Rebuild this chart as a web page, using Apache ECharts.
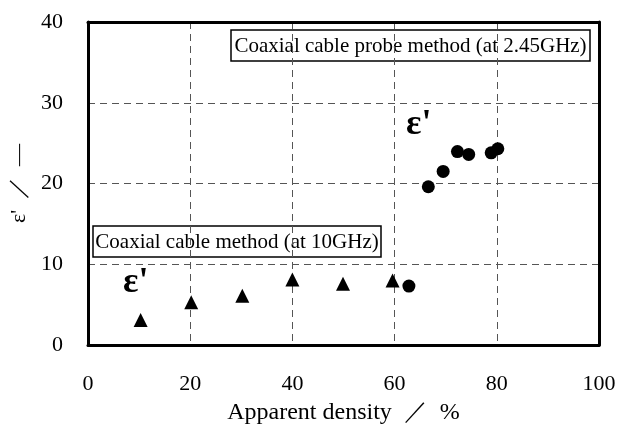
<!DOCTYPE html>
<html>
<head>
<meta charset="utf-8">
<script src="https://cdn.jsdelivr.net/npm/echarts@6/dist/echarts.min.js"></script>
<style>html,body{margin:0;padding:0;background:#fff}#c{width:619px;height:430px}</style>
</head>
<body>
<div id="c"></div>
<script>
// Data
const triX = [10.3, 20.2, 30.2, 40.0, 49.9, 59.6];
const triY = [3.1, 5.3, 6.1, 8.1, 7.6, 8.0];
const cirX = [62.8, 66.6, 69.5, 72.3, 74.5, 78.9, 80.2];
const cirY = [7.3, 19.6, 21.5, 23.95, 23.6, 23.8, 24.3];
const xRange = [0, 100], xStep = 20;
const yRange = [0, 40], yStep = 10;
const xTitle = 'Apparent density  ／  %';
const yTitle = "ε'  ／  —";
const box1Text = 'Coaxial cable probe method (at 2.45GHz)';
const box2Text = 'Coaxial cable method (at 10GHz)';
const epsLabel = "ε'";

const FONT = '"Liberation Serif", "Times New Roman", serif';
const chart = echarts.init(document.getElementById('c'));
const gridLine = {show: true, lineStyle: {color: '#555', type: [7, 5], width: 1}};
const frame = {show: true, onZero: false, lineStyle: {color: '#000', width: 3}};

function box(cx, cy, w, h, text) {
  return {
    type: 'group', z: 50,
    children: [
      {type: 'rect', shape: {x: cx - w / 2, y: cy - h / 2, width: w, height: h},
       style: {fill: '#fff', stroke: '#000', lineWidth: 1.5}},
      {type: 'text', x: cx, y: cy + 1,
       style: {text: text, font: '21px ' + FONT, fill: '#000', align: 'center', verticalAlign: 'middle'}}
    ]
  };
}

chart.setOption({
  animation: false,
  grid: {left: 88, right: 20, top: 22, bottom: 84},
  xAxis: [{
    type: 'value', min: xRange[0], max: xRange[1], interval: xStep,
    axisLine: frame, axisTick: {show: false}, splitLine: gridLine,
    axisLabel: {margin: 28, color: '#000', fontSize: 22, fontFamily: FONT},
    name: xTitle, nameLocation: 'middle', nameGap: 56,
    nameTextStyle: {color: '#000', fontSize: 24, fontFamily: FONT}
  }, {
    type: 'value', position: 'top', min: xRange[0], max: xRange[1], interval: xStep,
    axisLine: frame, axisTick: {show: false}, splitLine: {show: false}, axisLabel: {show: false}
  }],
  yAxis: [{
    type: 'value', min: yRange[0], max: yRange[1], interval: yStep,
    axisLine: frame, axisTick: {show: false}, splitLine: gridLine,
    axisLabel: {margin: 25, color: '#000', fontSize: 22, fontFamily: FONT},
    name: yTitle, nameLocation: 'middle', nameGap: 48, nameRotate: 90,
    nameTextStyle: {color: '#000', fontSize: 22, fontFamily: FONT}
  }, {
    type: 'value', position: 'right', min: yRange[0], max: yRange[1], interval: yStep,
    axisLine: frame, axisTick: {show: false}, splitLine: {show: false}, axisLabel: {show: false}
  }],
  series: [{
    type: 'scatter', symbol: 'triangle', symbolSize: 14,
    itemStyle: {color: '#000', opacity: 1},
    data: triX.map((x, i) => [x, triY[i]])
  }, {
    type: 'scatter', symbol: 'circle', symbolSize: 13,
    itemStyle: {color: '#000', opacity: 1},
    data: cirX.map((x, i) => [x, cirY[i]])
  }],
  graphic: [
    box(410.5, 45.5, 359, 31, box1Text),
    box(237, 241.5, 288, 31, box2Text),
    {type: 'text', x: 123, y: 283, z: 50,
     style: {text: epsLabel, font: 'bold 36px ' + FONT, fill: '#000', align: 'left', verticalAlign: 'middle'}},
    {type: 'text', x: 406, y: 125, z: 50,
     style: {text: epsLabel, font: 'bold 36px ' + FONT, fill: '#000', align: 'left', verticalAlign: 'middle'}}
  ]
});
</script>
</body>
</html>
